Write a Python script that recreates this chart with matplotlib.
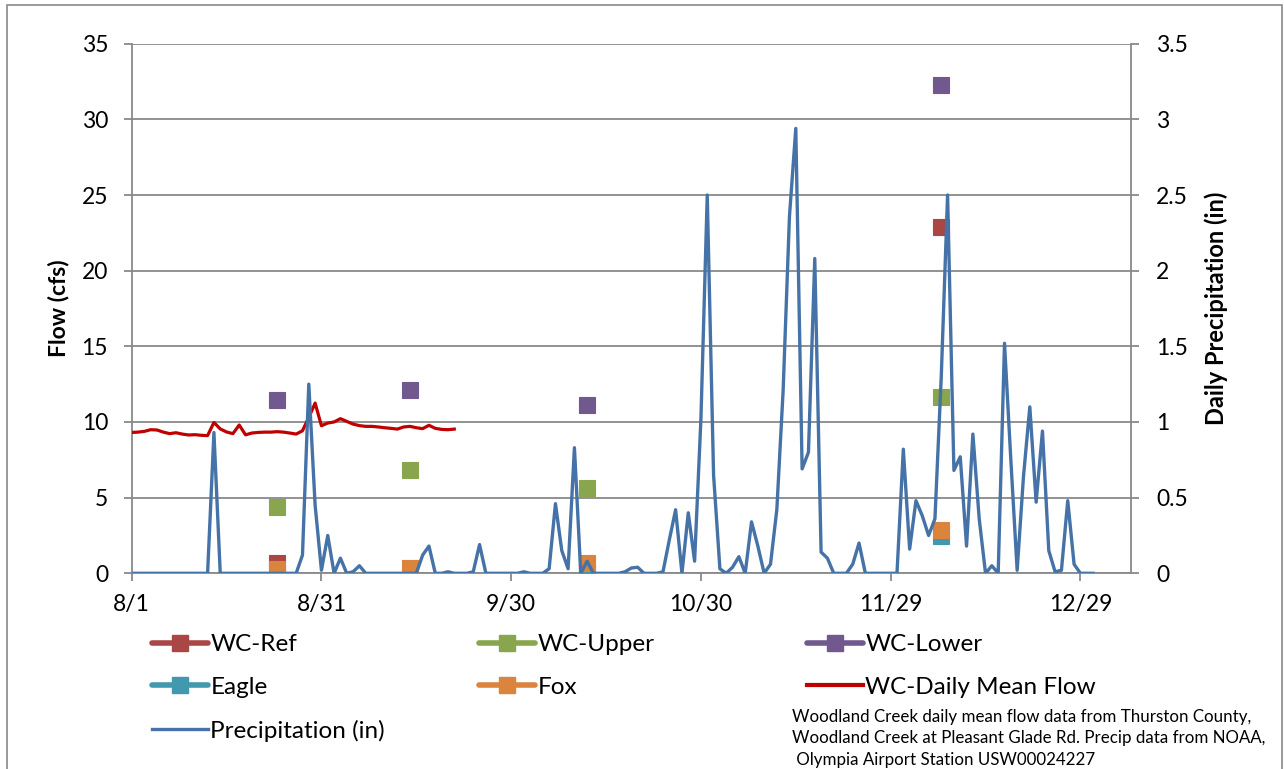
import matplotlib.pyplot as plt
import matplotlib.dates as mdates
from matplotlib.lines import Line2D
from matplotlib.patches import Rectangle
import numpy as np
import pandas as pd

plt.rcParams['font.family'] = 'Lato'

# daily precipitation at Olympia Airport (in), starting 8/1
precip_start = '2013-08-01'
precip_in = [
    0, 0, 0, 0, 0, 0, 0, 0, 0, 0, 0, 0, 0, 0.93, 0, 0, 0, 0, 0, 0,          # 0-19
    0, 0, 0, 0, 0, 0, 0, 0.12, 1.25, 0.45, 0.02, 0.25, 0, 0.10, 0, 0.01,   # 20-35
    0.05, 0, 0, 0, 0, 0, 0, 0, 0, 0, 0.12, 0.18, 0, 0, 0.01, 0,            # 36-51
    0, 0, 0.01, 0.19, 0, 0, 0, 0, 0, 0, 0.01, 0, 0, 0, 0.03, 0.46,         # 52-67
    0.15, 0.03, 0.83, 0, 0.08, 0, 0, 0, 0, 0, 0.01, 0.035, 0.04, 0, 0, 0,  # 68-83
    0.01, 0.22, 0.42, 0, 0.40, 0.08, 1.02, 2.50, 0.65, 0.03, 0, 0.04,     # 84-95
    0.11, 0, 0.34, 0.18, 0, 0.06, 0.42, 1.21, 2.36, 2.94, 0.69, 0.80,     # 96-107
    2.08, 0.14, 0.10, 0, 0, 0, 0.06, 0.20, 0, 0, 0, 0, 0, 0,              # 108-121
    0.82, 0.16, 0.48, 0.38, 0.25, 0.36, 1.30, 2.50, 0.68, 0.77, 0.18,     # 122-132
    0.92, 0.36, 0, 0.05, 0, 1.52, 0.75, 0.02, 0.64, 1.10, 0.47, 0.94,     # 133-144
    0.15, 0.01, 0.02, 0.48, 0.06, 0, 0, 0,                                # 145-152
]

# Woodland Creek daily mean flow (cfs), starting 8/1
flow_start = '2013-08-01'
daily_flow = [
    9.31, 9.33, 9.38, 9.49, 9.47, 9.33, 9.23, 9.29, 9.20, 9.14, 9.16, 9.12,
    9.10, 9.97, 9.54, 9.34, 9.23, 9.80, 9.15, 9.27, 9.31, 9.33, 9.33, 9.36,
    9.33, 9.27, 9.20, 9.42, 10.30, 11.25, 9.75, 9.93, 10.00, 10.22, 10.04,
    9.86, 9.76, 9.71, 9.71, 9.67, 9.62, 9.58, 9.53, 9.67, 9.71, 9.62, 9.56,
    9.78, 9.58, 9.51, 9.49, 9.53,
]

# spot flow measurements (cfs)
sample_dates = pd.to_datetime(['2013-08-24', '2013-09-14', '2013-10-12', '2013-12-07'])
wc_ref = [0.7, np.nan, np.nan, 22.9]
wc_upper = [4.35, 6.85, 5.65, 11.65]
wc_lower = [11.45, 12.1, 11.1, 32.3]
eagle = [np.nan, np.nan, 0.1, 2.45]
fox = [0.3, 0.33, 0.65, 2.83]

tick_dates = pd.to_datetime(['2013-08-01', '2013-08-31', '2013-09-30',
                             '2013-10-30', '2013-11-29', '2013-12-29'])

precip_days = pd.date_range(precip_start, periods=len(precip_in), freq='D')
flow_days = pd.date_range(flow_start, periods=len(daily_flow), freq='D')

grey = '#898989'
blue = '#4572A7'
series = [
    ('WC-Ref', wc_ref, '#AA4643'),
    ('WC-Upper', wc_upper, '#89A54E'),
    ('WC-Lower', wc_lower, '#71588F'),
    ('Eagle', eagle, '#4198AF'),
    ('Fox', fox, '#DB843D'),
]

fig = plt.figure(figsize=(12.84, 7.69), dpi=100)
ax = fig.add_axes([131.7 / 1284, 1 - 573.3 / 769, (1131 - 131.7) / 1284, (573.3 - 43.7) / 769])
ax2 = ax.twinx()

handles = {}
for name, vals, col in series:
    ax.plot(sample_dates, vals, ls='none', marker='s', ms=11, color=col,
            mec=col, mew=0.8, zorder=3)
    handles[name] = Line2D([], [], color=col, lw=4, marker='s', ms=11,
                           solid_capstyle='round')

ax.plot(flow_days, daily_flow, color='#C00000', lw=2.3, zorder=4)
handles['WC-Daily Mean Flow'] = Line2D([], [], color='#C00000', lw=3)

ax2.plot(precip_days, precip_in, color=blue, lw=2.4, solid_joinstyle='round')
handles['Precipitation (in)'] = Line2D([], [], color=blue, lw=2.4)

x0 = pd.Timestamp('2013-08-01')
ax.set_xlim(x0, x0 + pd.Timedelta(days=158))
ax.set_ylim(0, 35)
ax2.set_ylim(0, 3.5)
ax.set_yticks(np.arange(0, 36, 5))
ax2.set_yticks(np.arange(0, 3.51, 0.5))
ax2.yaxis.set_major_formatter(plt.FuncFormatter(lambda v, p: f'{v:g}'))
ax.set_xticks(tick_dates)
ax.xaxis.set_major_formatter(mdates.DateFormatter('%-m/%-d'))

ax.grid(axis='y', color=grey, lw=1.3)
ax.set_axisbelow(True)
for a in (ax, ax2):
    for s in a.spines.values():
        s.set_color(grey)
        s.set_linewidth(1.3)
    a.spines['top'].set_visible(False)
ax.spines['right'].set_visible(False)
ax2.spines['left'].set_visible(False)
ax2.spines['bottom'].set_visible(False)

ax.tick_params(axis='both', direction='out', length=6, width=1.3, color=grey,
               labelsize=16.5, pad=11)
ax.tick_params(axis='x', pad=9)
ax2.tick_params(axis='y', direction='out', length=6, width=1.3, color=grey,
                labelsize=16.5, pad=12)

ax.set_ylabel('Flow (cfs)', fontsize=16.5, fontweight='bold')
ax.yaxis.set_label_coords(-0.062, 0.5)
ax2.set_ylabel('Daily Precipitation (in)', fontsize=17, fontweight='bold')
ax2.yaxis.set_label_coords(1.073, 0.5)

# legend laid out in three columns
columns = [
    (152, ['WC-Ref', 'Eagle', 'Precipitation (in)']),
    (479, ['WC-Upper', 'Fox']),
    (807, ['WC-Lower', 'WC-Daily Mean Flow']),
]
for xpix, names in columns:
    fig.legend([handles[n] for n in names], names, loc='upper left',
               bbox_to_anchor=(xpix / 1284, 1 - 634 / 769), frameon=False,
               fontsize=17.5, borderpad=0, borderaxespad=0, handlelength=2.3,
               handletextpad=0.1, labelspacing=0.9)

fig.text(792 / 1284, 1 - 709 / 769,
         'Woodland Creek daily mean flow data from Thurston County,\n'
         'Woodland Creek at Pleasant Glade Rd. Precip data from NOAA,\n'
         ' Olympia Airport Station USW00024227',
         fontsize=12.2, va='top', ha='left', linespacing=1.42)

fig.patches.append(Rectangle((7 / 1284, -0.02), (1282 - 7) / 1284, 1.02 - 5 / 769,
                             transform=fig.transFigure, fill=False,
                             edgecolor=grey, lw=1.2))

fig.savefig('out.png', dpi=100)
